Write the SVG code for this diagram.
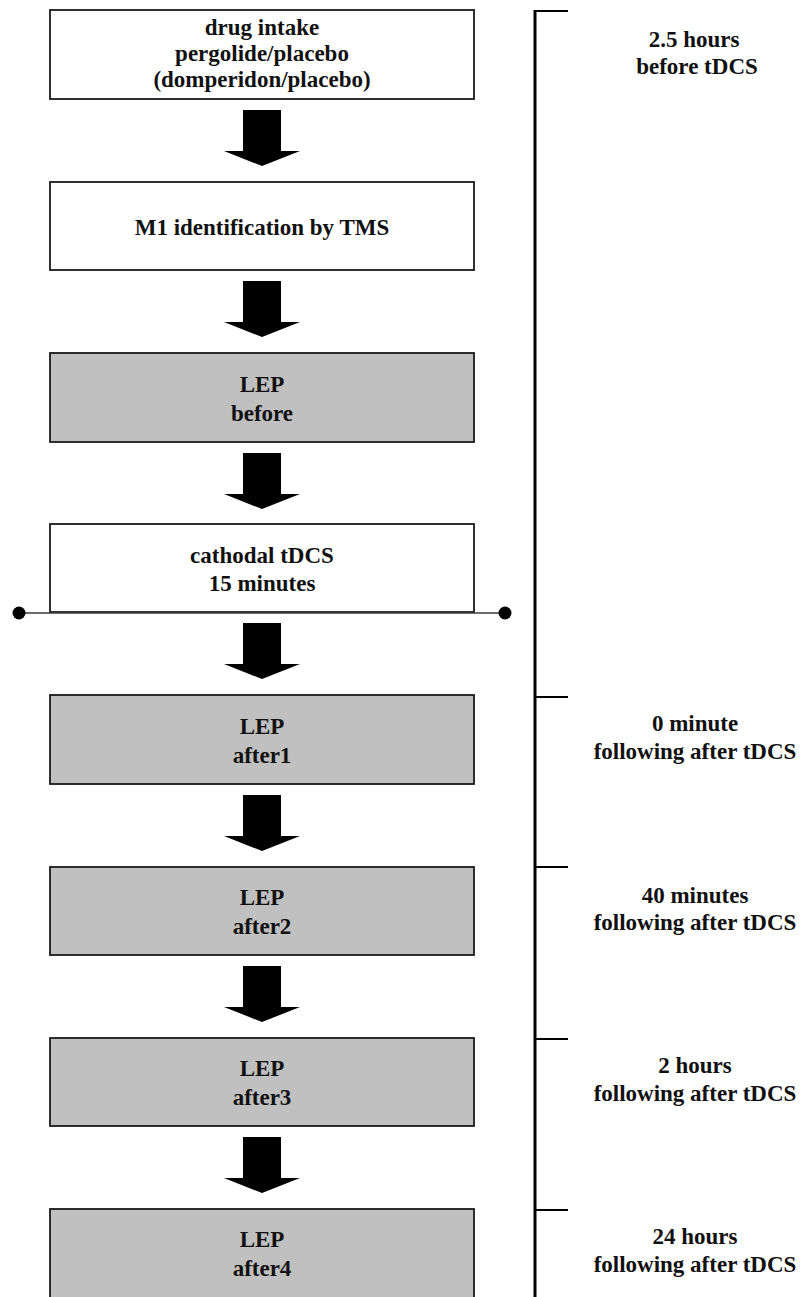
<svg xmlns="http://www.w3.org/2000/svg" xmlns:xlink="http://www.w3.org/1999/xlink" width="802" height="1297" viewBox="0 0 802 1297">
<style>
  .box{stroke:#1a1a1a;stroke-width:1.8}
  .white{fill:#ffffff}
  .grey{fill:#c0c0c0}
  .t{font-family:"Liberation Serif","Times New Roman",serif;font-weight:bold;font-size:23px;fill:#111;text-anchor:middle}
  .arrow{fill:#000}
  .axis{stroke:#000;stroke-width:3;fill:none}
  .tick{stroke:#000;stroke-width:2;fill:none}
  .sep{stroke:#3a3a3a;stroke-width:1.6}
  .dot{fill:#000}
</style>
<defs>
  <path id="blockArrow" d="M-19,0 H19 V41 H38 L0,56 L-38,41 H-19 Z"/>
</defs>
<rect width="802" height="1297" fill="#ffffff"/>

<g id="connectors">
  <use xlink:href="#blockArrow" href="#blockArrow" class="arrow" x="262" y="110"/>
  <use xlink:href="#blockArrow" href="#blockArrow" class="arrow" x="262" y="281"/>
  <use xlink:href="#blockArrow" href="#blockArrow" class="arrow" x="262" y="453"/>
  <use xlink:href="#blockArrow" href="#blockArrow" class="arrow" x="262" y="623"/>
  <use xlink:href="#blockArrow" href="#blockArrow" class="arrow" x="262" y="795"/>
  <use xlink:href="#blockArrow" href="#blockArrow" class="arrow" x="262" y="966"/>
  <use xlink:href="#blockArrow" href="#blockArrow" class="arrow" x="262" y="1137"/>
</g>

<g id="node-drug">
  <rect class="box white" x="50" y="10" width="424" height="89"/>
  <text class="t" x="262" y="35">drug  intake</text>
  <text class="t" x="262" y="61">pergolide/placebo</text>
  <text class="t" x="262" y="87">(domperidon/placebo)</text>
</g>
<g id="node-m1">
  <rect class="box white" x="50" y="182" width="424" height="88"/>
  <text class="t" x="262" y="235">M1 identification by TMS</text>
</g>
<g id="node-lep-before">
  <rect class="box grey" x="50" y="353" width="424" height="89"/>
  <text class="t" x="262" y="392">LEP</text>
  <text class="t" x="262" y="421">before</text>
</g>
<g id="node-tdcs">
  <rect class="box white" x="50" y="524" width="424" height="88"/>
  <text class="t" x="262" y="563">cathodal tDCS</text>
  <text class="t" x="262" y="591">15 minutes</text>
</g>
<g id="tdcs-end-line">
  <line class="sep" x1="19" y1="613" x2="505" y2="613"/>
  <circle class="dot" cx="19" cy="613" r="6.5"/>
  <circle class="dot" cx="505" cy="613" r="6.5"/>
</g>
<g id="node-lep-after1">
  <rect class="box grey" x="50" y="695" width="424" height="89"/>
  <text class="t" x="262" y="734">LEP</text>
  <text class="t" x="262" y="763">after1</text>
</g>
<g id="node-lep-after2">
  <rect class="box grey" x="50" y="867" width="424" height="88"/>
  <text class="t" x="262" y="905">LEP</text>
  <text class="t" x="262" y="934">after2</text>
</g>
<g id="node-lep-after3">
  <rect class="box grey" x="50" y="1038" width="424" height="88"/>
  <text class="t" x="262" y="1076">LEP</text>
  <text class="t" x="262" y="1105">after3</text>
</g>
<g id="node-lep-after4">
  <rect class="box grey" x="50" y="1209" width="424" height="92"/>
  <text class="t" x="262" y="1247">LEP</text>
  <text class="t" x="262" y="1276">after4</text>
</g>

<g id="timeline">
  <line class="axis" x1="535" y1="10" x2="535" y2="1297"/>
  <line class="tick" x1="534" y1="11" x2="568" y2="11"/>
  <line class="tick" x1="535" y1="697" x2="568" y2="697"/>
  <line class="tick" x1="535" y1="867" x2="568" y2="867"/>
  <line class="tick" x1="535" y1="1039" x2="568" y2="1039"/>
  <line class="tick" x1="535" y1="1210" x2="568" y2="1210"/>
  <text class="t" x="694" y="47">2.5 hours</text>
  <text class="t" x="697" y="74">before tDCS</text>
  <text class="t" x="695" y="731">0 minute</text>
  <text class="t" x="695" y="759">following after tDCS</text>
  <text class="t" x="695" y="903">40 minutes</text>
  <text class="t" x="695" y="930">following after tDCS</text>
  <text class="t" x="695" y="1073">2 hours</text>
  <text class="t" x="695" y="1101">following after tDCS</text>
  <text class="t" x="695" y="1244">24 hours</text>
  <text class="t" x="695" y="1272">following after tDCS</text>
</g>
</svg>
